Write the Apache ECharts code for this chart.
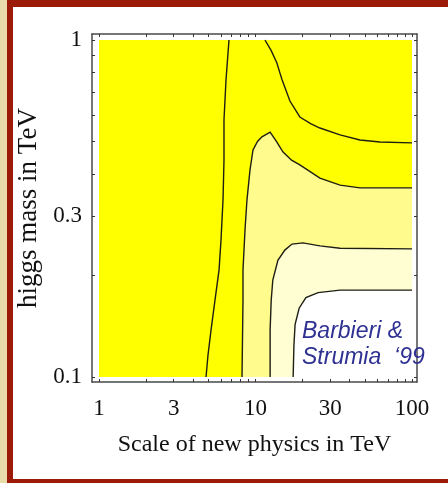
<!DOCTYPE html>
<html>
<head>
<meta charset="utf-8">
<script src="https://cdn.jsdelivr.net/npm/echarts@6/dist/echarts.min.js"></script>
<style>
html, body { margin: 0; padding: 0; background: #fff; }
#chart { width: 448px; height: 483px; }
</style>
</head>
<body>
<div id="chart"></div>
<script>
// axis labels and tick marks (TeV)
const xLabels = [1, 3, 10, 30, 100]
const yLabels = [0.1, 0.3, 1]
const xTicks = [1, 2, 3, 4, 5, 6, 7, 8, 9, 10, 20, 30, 40, 50, 60, 70, 80, 90, 100]
const yTicks = [0.1, 0.2, 0.3, 0.4, 0.5, 0.6, 0.7, 0.8, 0.9, 1]

// contour lines: [new physics scale, higgs mass]
const contourA = [[6.77, 1], [6.48, 0.761], [6.29, 0.579], [6.29, 0.44], [6.2, 0.335], [6.02, 0.255], [5.85, 0.208], [5.51, 0.169], [5.2, 0.138], [4.97, 0.116], [4.83, 0.1]]
const contourB = [[11.5, 1], [12.6, 0.93], [13.7, 0.855], [14.3, 0.8], [14.8, 0.761], [16.6, 0.659], [19.2, 0.591], [22.5, 0.565], [25.8, 0.548], [34.7, 0.523], [46.5, 0.505], [62.4, 0.498], [100, 0.495]]
const contourC = [[8.2, 0.1], [8.32, 0.169], [8.32, 0.208], [8.57, 0.273], [8.82, 0.335], [9.22, 0.411], [9.64, 0.472], [10.3, 0.5], [11.0, 0.516], [12.4, 0.533], [13.6, 0.5], [15.0, 0.465], [17, 0.44], [19.2, 0.426], [25.8, 0.389], [34.7, 0.371], [46.5, 0.364], [100, 0.364]]
const contourD = [[12.4, 0.1], [12.4, 0.138], [12.6, 0.169], [12.9, 0.194], [13.9, 0.222], [15.4, 0.238], [17.1, 0.248], [20.1, 0.25], [25.8, 0.245], [34.7, 0.241], [100, 0.24]]
const contourE = [[17.4, 0.1], [17.6, 0.124], [17.9, 0.143], [19.0, 0.16], [21.0, 0.172], [25.1, 0.178], [34.7, 0.181], [100, 0.181]]
const plotBox = [[1, 0.1], [100, 0.1], [100, 1], [1, 1]]

const lg = v => Math.log10(v)
const fmt = v => String(Math.round(Math.pow(10, v) * 1000) / 1000)

function shape (points, fill, stroke) {
  return {
    type: 'custom',
    coordinateSystem: 'cartesian2d',
    silent: true,
    clip: false,
    data: [0],
    renderItem: (params, api) => ({
      type: fill ? 'polygon' : 'polyline',
      shape: { points: points.map(p => api.coord([lg(p[0]), lg(p[1])])) },
      style: fill ? { fill: fill } : { fill: null, stroke: stroke, lineWidth: 1.4 }
    })
  }
}

function axis (dim, pos, ticks, labels, lo, hi, showLabels) {
  return {
    type: 'value',
    position: pos,
    min: lo,
    max: hi,
    axisLine: { show: true, onZero: false, lineStyle: { color: '#4a4a4a', width: 1.5 } },
    axisTick: { show: true, inside: true, length: 3, customValues: ticks.map(lg), lineStyle: { color: '#333', width: 1 } },
    axisLabel: {
      show: showLabels,
      customValues: labels.map(lg),
      formatter: fmt,
      fontFamily: 'Liberation Serif',
      fontSize: 23,
      color: '#111',
      margin: dim === 'x' ? 15 : 10
    },
    splitLine: { show: false }
  }
}

const chart = echarts.init(document.getElementById('chart'))
const xAxisB = axis('x', 'bottom', xTicks, xLabels, -7 / 156.5, 2 + 5 / 156.5, true)
xAxisB.name = 'Scale of new physics in TeV'
xAxisB.nameLocation = 'middle'
xAxisB.nameGap = 51
xAxisB.nameTextStyle = { fontFamily: 'Liberation Serif', fontSize: 24, color: '#111' }
const yAxisL = axis('y', 'left', yTicks, yLabels, -1 - 5 / 337, 6 / 337, true)
yAxisL.name = 'higgs mass in TeV'
yAxisL.nameLocation = 'middle'
yAxisL.nameGap = 43
yAxisL.nameTextStyle = { fontFamily: 'Liberation Serif', fontSize: 27, color: '#111' }

chart.setOption({
  animation: false,
  backgroundColor: '#fff',
  grid: { left: 92, top: 34, width: 325, height: 348 },
  xAxis: [xAxisB, axis('x', 'top', xTicks, xLabels, -7 / 156.5, 2 + 5 / 156.5, false)],
  yAxis: [yAxisL, axis('y', 'right', yTicks, yLabels, -1 - 5 / 337, 6 / 337, false)],
  series: [
    shape(plotBox, '#ffff00'),
    shape(contourC.concat([[100, 0.1]]), '#fffb8c'),
    shape(contourD.concat([[100, 0.1]]), '#fefed2'),
    shape(contourE.concat([[100, 0.1]]), '#ffffff'),
    shape(contourA, null, '#1e1e14'),
    shape(contourB, null, '#1e1e14'),
    shape(contourC, null, '#1e1e14'),
    shape(contourD, null, '#1e1e14'),
    shape(contourE, null, '#1e1e14')
  ],
  graphic: [
    { type: 'rect', left: 0, top: 0, shape: { width: 7, height: 483 }, style: { fill: '#e9dcaa' } },
    { type: 'rect', left: 7, top: 0, shape: { width: 6, height: 483 }, style: { fill: '#9b1a08' } },
    { type: 'rect', left: 7, top: 0, shape: { width: 441, height: 7 }, style: { fill: '#9b1a08' } },
    { type: 'rect', left: 7, top: 479, shape: { width: 441, height: 4 }, style: { fill: '#9b1a08' } },
    {
      type: 'text',
      left: 302,
      top: 320,
      z: 10,
      style: { text: 'Barbieri &', font: 'italic 23px "Liberation Sans"', fill: '#2e3192' }
    },
    {
      type: 'text',
      left: 302,
      top: 346,
      z: 10,
      style: { text: 'Strumia  \u201899', font: 'italic 23px "Liberation Sans"', fill: '#2e3192' }
    }
  ]
})
</script>
</body>
</html>
